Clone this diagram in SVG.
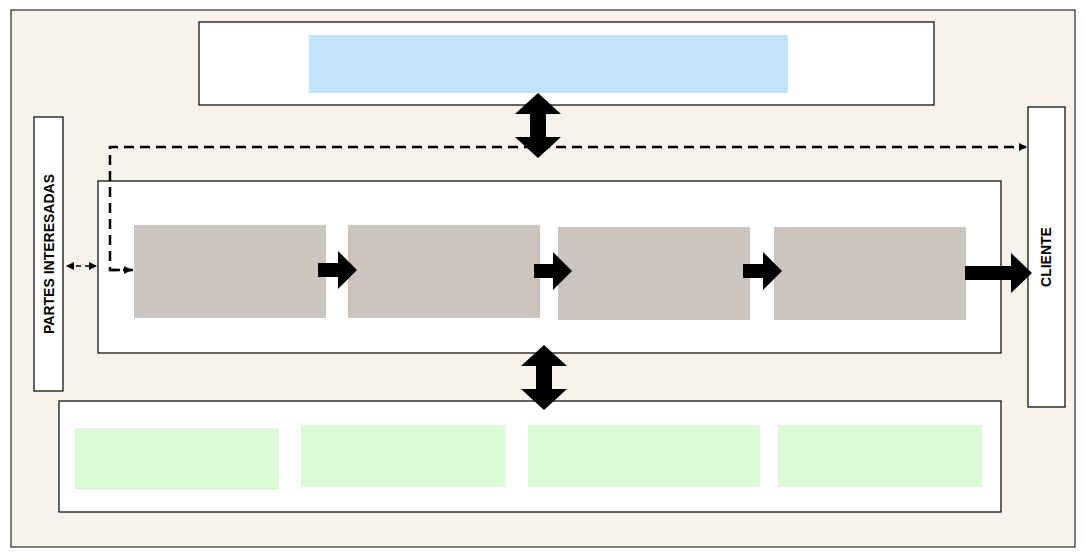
<svg xmlns="http://www.w3.org/2000/svg" width="1085" height="556" viewBox="0 0 1085 556">
<style>
.box{fill:#fff;stroke:#000;stroke-width:1.2}
.gray{fill:#ccc5bf}
.green{fill:#dcf9d8}
.lbl{font-family:"Liberation Sans",Arial,sans-serif;font-weight:bold;font-size:14px;fill:#000}
.dash{fill:none;stroke:#000;stroke-width:2.5;stroke-dasharray:10,6}
.blk{fill:#000}
</style>
<defs>
<marker id="ah" markerWidth="8" markerHeight="8" refX="7" refY="4" orient="auto" markerUnits="userSpaceOnUse"><path d="M0,0 L8,4 L0,8 Z" fill="#000"/></marker>
<marker id="ahs" markerWidth="8" markerHeight="8" refX="1" refY="4" orient="auto" markerUnits="userSpaceOnUse"><path d="M8,0 L0,4 L8,8 Z" fill="#000"/></marker>
</defs>
<rect x="11" y="10" width="1064" height="537" fill="#f5f3ec" stroke="#000" stroke-width="1"/>
<g id="top"><rect class="box" x="199" y="22" width="735" height="83"/><rect x="309" y="35" width="479" height="58" fill="#c2e3fb"/></g>
<g id="partes"><rect class="box" x="34" y="117" width="29" height="274"/><text class="lbl" transform="translate(54,254) rotate(-90)" text-anchor="middle">PARTES INTERESADAS</text></g>
<g id="cliente"><rect class="box" x="1028" y="107" width="37" height="300"/><text class="lbl" transform="translate(1051,257) rotate(-90)" text-anchor="middle">CLIENTE</text></g>
<g id="process"><rect class="box" x="98" y="181" width="903" height="172"/>
<rect class="gray" x="134" y="225" width="192" height="93"/>
<rect class="gray" x="348" y="225" width="192" height="93"/>
<rect class="gray" x="558" y="227" width="192" height="93"/>
<rect class="gray" x="774" y="227" width="192" height="93"/></g>
<g id="bottom"><rect class="box" x="59" y="401" width="942" height="111"/>
<rect class="green" x="75" y="428" width="204" height="62"/>
<rect class="green" x="301" y="425" width="204" height="62"/>
<rect class="green" x="528" y="425" width="232" height="62"/>
<rect class="green" x="778" y="425" width="204" height="62"/></g>
<g id="connectors">
<path class="dash" d="M133,270 H110 V147 H1026" marker-end="url(#ah)"/>
<path class="dash" d="M110,270 H131" marker-end="url(#ah)"/>
<path fill="none" stroke="#000" stroke-width="1.5" stroke-dasharray="5,4" d="M67,266 H96" marker-start="url(#ahs)" marker-end="url(#ah)"/>
<path class="blk" d="M318,263 H338 V251 L357,270 L338,289 V277 H318 Z"/>
<path class="blk" d="M534,264 H553 V252 L572,271 L553,290 V278 H534 Z"/>
<path class="blk" d="M743,264 H763 V252 L782,271 L763,290 V278 H743 Z"/>
<path class="blk" d="M965,266 H1011 V253 L1032,273 L1011,293 V280 H965 Z"/>
<path class="blk" d="M538,93 L561,114 H546 V137 H561 L538,158 L515,137 H530 V114 H515 Z"/>
<path class="blk" d="M544,345 L567,366 H552 V389 H567 L544,410 L521,389 H536 V366 H521 Z"/>
</g>
</svg>
